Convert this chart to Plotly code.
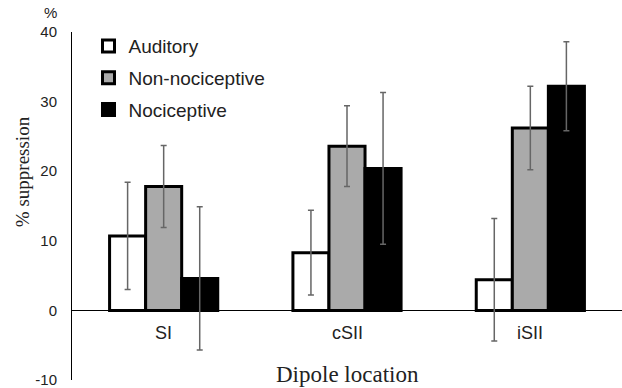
import plotly.graph_objects as go

categories = ["SI", "cSII", "iSII"]
series_names = ["Auditory", "Non-nociceptive", "Nociceptive"]
auditory = [10.7, 8.3, 4.4]
auditory_err = [7.7, 6.1, 8.8]
nonnoci = [17.8, 23.6, 26.2]
nonnoci_err = [5.9, 5.8, 6.0]
noci = [4.6, 20.4, 32.2]
noci_err = [10.3, 10.9, 6.4]
y_ticks = [-10, 0, 10, 20, 30, 40]
y_tick_labels = ["-10", "0", "10", "20", "30", "40"]

fills = ["#ffffff", "#aaaaaa", "#000000"]
values = [auditory, nonnoci, noci]
errors = [auditory_err, nonnoci_err, noci_err]

fig = go.Figure()
for i, (name, v, e, c) in enumerate(zip(series_names, values, errors, fills)):
    fig.add_trace(go.Bar(
        x=categories, y=v, name=name,
        marker=dict(color=c, line=dict(color="black", width=3)),
        error_y=dict(type="data", array=e, visible=True, color="#666666",
                     thickness=1.5, width=3),
        legendgroup=f"g{i}",
    ))

for cat in categories:
    fig.add_annotation(x=cat, y=-3.3, xref="x", yref="y", text=cat,
                       showarrow=False, font=dict(family="Liberation Sans", size=18, color="#222"))
fig.add_annotation(x=1, y=-9.2, xref="x", yref="y", text="Dipole location",
                   showarrow=False, font=dict(family="Liberation Serif", size=23, color="#222"))
fig.add_annotation(x=-0.04, y=1, xref="paper", yref="paper", text="%",
                   xanchor="center", yanchor="bottom", yshift=9,
                   showarrow=False, font=dict(family="Liberation Sans", size=15, color="#222"))
fig.add_annotation(x=-0.091, y=20, xref="paper", yref="y", text="% suppression",
                   textangle=-90, showarrow=False, xanchor="center", yanchor="middle",
                   font=dict(family="Liberation Serif", size=19, color="#222"))

fig.update_layout(
    width=622, height=388,
    margin=dict(l=72, r=0, t=32, b=5),
    paper_bgcolor="white", plot_bgcolor="white",
    barmode="group", bargap=0.41, bargroupgap=0,
    showlegend=True,
    legend=dict(x=0.03, y=1.014, xanchor="left", yanchor="top",
                font=dict(family="Liberation Sans", size=19, color="#222"),
                traceorder="grouped", tracegroupgap=4, bgcolor="rgba(0,0,0,0)"),
    xaxis=dict(showticklabels=False, showline=False, showgrid=False, zeroline=False,
               range=[-0.5, 2.5]),
    yaxis=dict(range=[-10, 40], tickvals=y_ticks, ticktext=y_tick_labels, showgrid=False,
               showline=True, linecolor="black", linewidth=1,
               zeroline=True, zerolinecolor="black", zerolinewidth=1,
               ticks="", ticklabelstandoff=11, ticklabeloverflow="allow",
               tickfont=dict(family="Liberation Sans", size=15, color="#222")),
)
fig.write_html("out.html", config={"displayModeBar": False},
               post_script="document.body.style.margin='0';document.body.style.overflow='hidden';")
